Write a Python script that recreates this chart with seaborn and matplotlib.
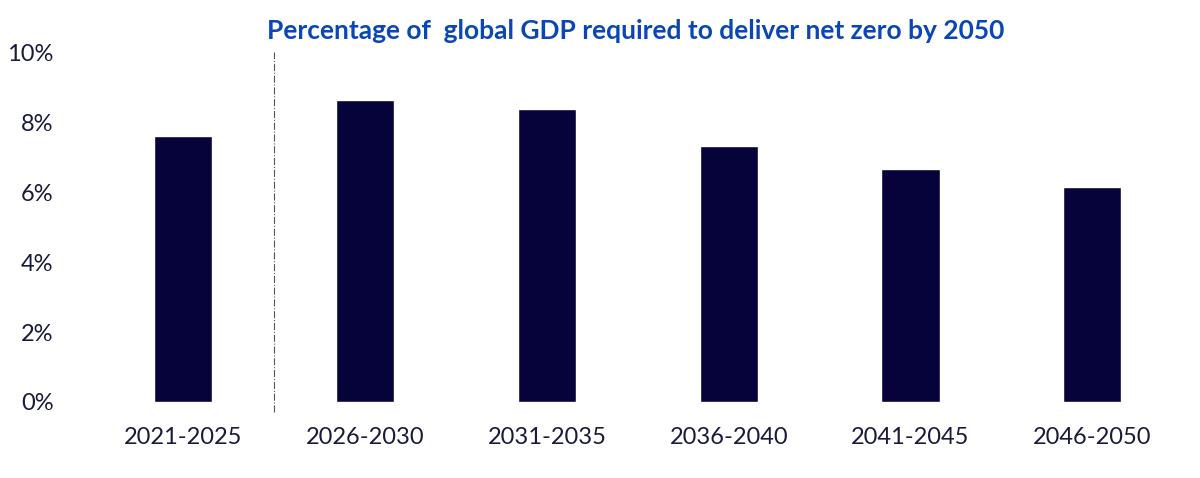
import matplotlib
matplotlib.use("Agg")
import matplotlib.pyplot as plt
import seaborn as sns
import pandas as pd
from matplotlib.ticker import PercentFormatter

periods = ["2021-2025", "2026-2030", "2031-2035", "2036-2040", "2041-2045", "2046-2050"]
gdp_pct = [7.6, 8.63, 8.37, 7.31, 6.66, 6.14]
yticks = [0, 2, 4, 6, 8, 10]

sns.set_style("white")
plt.rcParams['font.family'] = ['Lato', 'DejaVu Sans']

df = pd.DataFrame({"period": periods, "pct": gdp_pct})
fig = plt.figure(figsize=(12, 4.78), dpi=100)
ax = fig.add_axes([0.077, 0.159, 0.909, 0.732])
sns.barplot(data=df, x="period", y="pct", color="#06033A", width=0.32, saturation=1, ax=ax)
ax.set_ylim(0, 10)
ax.set_yticks(yticks)
ax.yaxis.set_major_formatter(PercentFormatter(decimals=0))
ax.set_xlabel("")
ax.set_ylabel("")
for s in ax.spines.values():
    s.set_visible(False)
ax.tick_params(axis="both", labelsize=17, colors="#1a1a3a", length=0)
ax.tick_params(axis="x", pad=18)
ax.tick_params(axis="y", pad=28)
ax.axvline(0.5, ymin=-0.03, ymax=1.0, color="#555555", linestyle="-.", linewidth=0.8, clip_on=False)
fig.text(0.53, 0.935, "Percentage of  global GDP required to deliver net zero by 2050",
         ha="center", va="center", fontsize=19, fontweight="bold", color="#0a47b5")
fig.savefig("out.png", dpi=100)
